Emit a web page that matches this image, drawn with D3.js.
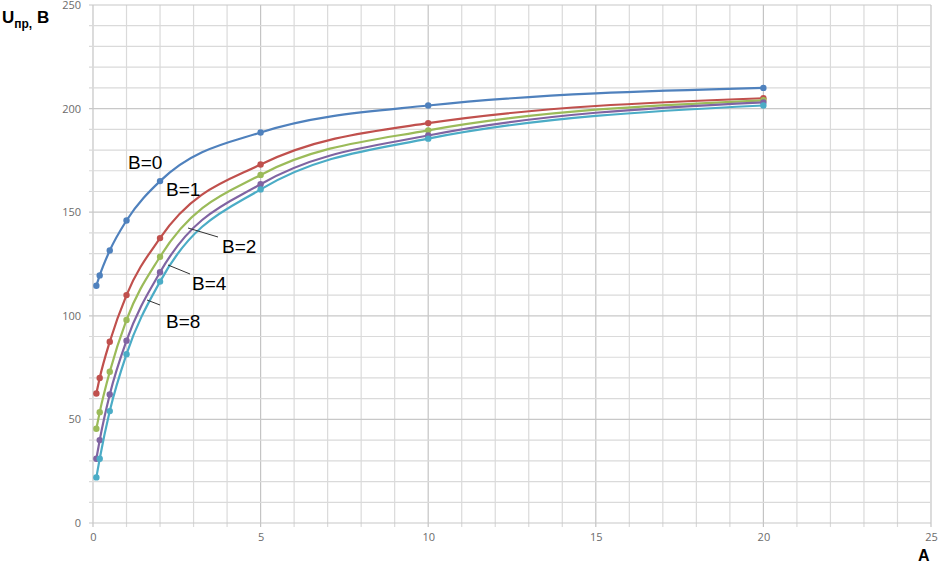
<!DOCTYPE html>
<html>
<head>
<meta charset="utf-8">
<script src="https://cdn.jsdelivr.net/npm/d3@7"></script>
<style>
    body { margin: 0; background: #fff; }
    svg { display: block; font-family: "Liberation Sans", Arial, sans-serif; }
</style>
</head>
<body>
<svg id="chart"></svg>
<script>
// Current values (A) where the points were measured
const xValues = [0.1, 0.2, 0.5, 1, 2, 5, 10, 20];

// Voltage for each B value
const seriesB0 = [114.5, 119.5, 131.5, 146, 165, 188.5, 201.5, 210];
const seriesB1 = [62.5, 70, 87.5, 110, 137.5, 173, 193, 205];
const seriesB2 = [45.5, 53.5, 73, 98, 128.5, 168, 189.5, 204];
const seriesB4 = [31, 40, 62, 88, 121, 163.5, 187, 203];
const seriesB8 = [22, 31, 54, 81.5, 116.5, 161, 185.5, 201.5];

const seriesNames = ['B=0', 'B=1', 'B=2', 'B=4', 'B=8'];
const SERIES_COLORS = ['#4F81BD', '#C0504D', '#9BBB59', '#8064A2', '#4BACC6'];

const xTicks = [0, 5, 10, 15, 20, 25];
const yTicks = [0, 50, 100, 150, 200, 250];

const width = 939;
const height = 563;
const margin = { top: 5, right: 8, bottom: 40, left: 93 };
const innerWidth = width - margin.left - margin.right;
const innerHeight = height - margin.top - margin.bottom;

const svg = d3.select('#chart')
    .attr('width', width)
    .attr('height', height);

const g = svg.append('g')
    .attr('transform', `translate(${ margin.left },${ margin.top })`);

const x = d3.scaleLinear().domain([0, 25]).range([0, innerWidth]);
const y = d3.scaleLinear().domain([0, 250]).range([innerHeight, 0]);

// Grid: minor every 1 on x, every 10 on y; major lines a bit darker
const xGrid = d3.range(0, 26, 1);
const yGrid = d3.range(0, 251, 10);

g.append('g')
    .selectAll('line')
    .data(xGrid)
    .join('line')
    .attr('x1', d => x(d)).attr('x2', d => x(d))
    .attr('y1', 0).attr('y2', innerHeight + 4)
    .attr('stroke', d => (d % 5 === 0 ? '#c4c4c4' : '#dadada'))
    .attr('stroke-width', 1.2);

g.append('g')
    .selectAll('line')
    .data(yGrid)
    .join('line')
    .attr('x1', -4).attr('x2', innerWidth)
    .attr('y1', d => y(d)).attr('y2', d => y(d))
    .attr('stroke', d => (d % 50 === 0 ? '#c8c8c8' : '#dadada'))
    .attr('stroke-width', 1.2);

// Axes (labels only; lines come from the grid)
const xAxis = g.append('g')
    .attr('transform', `translate(0,${ innerHeight })`)
    .call(d3.axisBottom(x).tickValues(xTicks).tickSize(0).tickPadding(10));
const yAxis = g.append('g')
    .call(d3.axisLeft(y).tickValues(yTicks).tickSize(0).tickPadding(12));

[xAxis, yAxis].forEach(ax => {
    ax.select('.domain').remove();
    ax.selectAll('text')
        .attr('fill', '#6b6b6b')
        .style('font-size', '11px')
        .style('font-family', '"Open Sans", sans-serif');
});

// Series
const allSeries = [seriesB0, seriesB1, seriesB2, seriesB4, seriesB8];

const line = d3.line()
    .x(d => x(d[0]))
    .y(d => y(d[1]))
    .curve(d3.curveMonotoneX);

allSeries.forEach((values, i) => {
    const points = xValues.map((xv, j) => [xv, values[j]]);
    g.append('path')
        .datum(points)
        .attr('fill', 'none')
        .attr('stroke', SERIES_COLORS[i])
        .attr('stroke-width', 2.2)
        .attr('d', line);
    g.append('g')
        .selectAll('circle')
        .data(points)
        .join('circle')
        .attr('cx', d => x(d[0]))
        .attr('cy', d => y(d[1]))
        .attr('r', 3.2)
        .attr('fill', SERIES_COLORS[i]);
});

// Curve labels with small leader lines
const labelPos = [
    { x: 128, y: 169, leader: null },
    { x: 166, y: 196, leader: null },
    { x: 222, y: 253, leader: [188, 228, 218, 237] },
    { x: 192, y: 290, leader: [168, 265, 190, 274] },
    { x: 166, y: 328, leader: [147, 300, 160, 305] }
];

labelPos.forEach((p, i) => {
    if (p.leader) {
        svg.append('line')
            .attr('x1', p.leader[0]).attr('y1', p.leader[1])
            .attr('x2', p.leader[2]).attr('y2', p.leader[3])
            .attr('stroke', '#333')
            .attr('stroke-width', 1);
    }
    svg.append('text')
        .attr('x', p.x)
        .attr('y', p.y)
        .attr('fill', '#000')
        .style('font-size', '19px')
        .text(seriesNames[i]);
});

// Axis titles
const yTitle = svg.append('text')
    .attr('x', 2)
    .attr('y', 23)
    .attr('fill', '#000')
    .style('font-size', '17px')
    .style('font-weight', 'bold');
yTitle.append('tspan').text('U');
yTitle.append('tspan').attr('dy', 5).style('font-size', '12px').text('пр,');
yTitle.append('tspan').attr('dy', -5).text(' В');

svg.append('text')
    .attr('x', 918)
    .attr('y', 561)
    .attr('fill', '#000')
    .style('font-size', '16px')
    .style('font-weight', 'bold')
    .text('А');
</script>
</body>
</html>
